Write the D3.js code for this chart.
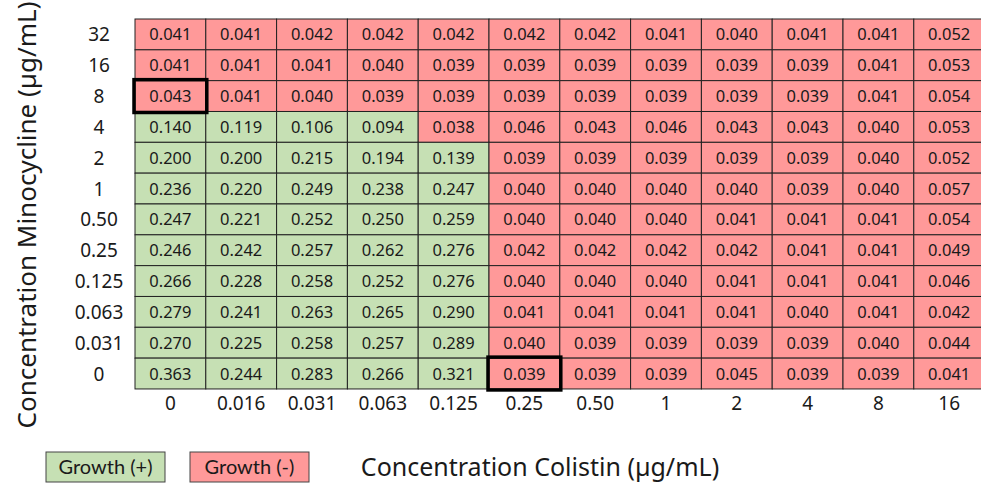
<!DOCTYPE html>
<html>
<head>
<meta charset="utf-8">
<script src="https://cdnjs.cloudflare.com/ajax/libs/d3/7.8.5/d3.min.js"></script>
<style>
  body { margin: 0; background: #fff; }
  text { font-family: "Noto Sans", sans-serif; fill: #1a1a1a; }
  .cell { stroke: #222; stroke-width: 1; }
  .legend text { font-family: Lato, sans-serif; }
</style>
</head>
<body>
<script>
// colistin concentrations (columns), minocycline concentrations (rows, top to bottom)
var colistin = ["0", "0.016", "0.031", "0.063", "0.125", "0.25", "0.50", "1", "2", "4", "8", "16"];
var minocycline = ["32", "16", "8", "4", "2", "1", "0.50", "0.25", "0.125", "0.063", "0.031", "0"];

var od = [
  [0.041, 0.041, 0.042, 0.042, 0.042, 0.042, 0.042, 0.041, 0.040, 0.041, 0.041, 0.052],
  [0.041, 0.041, 0.041, 0.040, 0.039, 0.039, 0.039, 0.039, 0.039, 0.039, 0.041, 0.053],
  [0.043, 0.041, 0.040, 0.039, 0.039, 0.039, 0.039, 0.039, 0.039, 0.039, 0.041, 0.054],
  [0.140, 0.119, 0.106, 0.094, 0.038, 0.046, 0.043, 0.046, 0.043, 0.043, 0.040, 0.053],
  [0.200, 0.200, 0.215, 0.194, 0.139, 0.039, 0.039, 0.039, 0.039, 0.039, 0.040, 0.052],
  [0.236, 0.220, 0.249, 0.238, 0.247, 0.040, 0.040, 0.040, 0.040, 0.039, 0.040, 0.057],
  [0.247, 0.221, 0.252, 0.250, 0.259, 0.040, 0.040, 0.040, 0.041, 0.041, 0.041, 0.054],
  [0.246, 0.242, 0.257, 0.262, 0.276, 0.042, 0.042, 0.042, 0.042, 0.041, 0.041, 0.049],
  [0.266, 0.228, 0.258, 0.252, 0.276, 0.040, 0.040, 0.040, 0.041, 0.041, 0.041, 0.046],
  [0.279, 0.241, 0.263, 0.265, 0.290, 0.041, 0.041, 0.041, 0.041, 0.040, 0.041, 0.042],
  [0.270, 0.225, 0.258, 0.257, 0.289, 0.040, 0.039, 0.039, 0.039, 0.039, 0.040, 0.044],
  [0.363, 0.244, 0.283, 0.266, 0.321, 0.039, 0.039, 0.039, 0.045, 0.039, 0.039, 0.041]
];

// outlined MIC wells: [minocycline, colistin]
var highlights = [["8", "0"], ["0", "0.25"]];

var legendLabels = ["Growth (+)", "Growth (-)"];
var growthColor = "#c6e0b4", noGrowthColor = "#ff9999";
var cutoff = 0.08;

var width = 981, height = 485;
var gridLeft = 135, gridTop = 19, cellW = 70.8, cellH = 30.83;

var svg = d3.select("body").append("svg")
    .attr("width", width)
    .attr("height", height);

var x = d3.scaleBand().domain(colistin).range([gridLeft, gridLeft + cellW * colistin.length]);
var y = d3.scaleBand().domain(minocycline).range([gridTop, gridTop + cellH * minocycline.length]);

var cells = [];
od.forEach(function(row, i) {
  row.forEach(function(v, j) {
    cells.push({ r: minocycline[i], c: colistin[j], v: v });
  });
});

svg.selectAll("rect.cell")
  .data(cells)
  .enter().append("rect")
    .attr("class", "cell")
    .attr("x", function(d) { return x(d.c); })
    .attr("y", function(d) { return y(d.r); })
    .attr("width", x.bandwidth())
    .attr("height", y.bandwidth())
    .attr("fill", function(d) { return d.v > cutoff ? growthColor : noGrowthColor; });

svg.selectAll("text.val")
  .data(cells)
  .enter().append("text")
    .attr("class", "val")
    .attr("x", function(d) { return x(d.c) + x.bandwidth() / 2; })
    .attr("y", function(d) { return y(d.r) + y.bandwidth() / 2 + 6; })
    .attr("text-anchor", "middle")
    .style("font-size", "16.5px")
    .text(function(d) { return d.v.toFixed(3); });

svg.selectAll("rect.mic")
  .data(highlights)
  .enter().append("rect")
    .attr("x", function(d) { return x(d[1]) - 1; })
    .attr("y", function(d) { return y(d[0]) - 1; })
    .attr("width", x.bandwidth() + 2)
    .attr("height", y.bandwidth() + 2)
    .attr("fill", "none")
    .attr("stroke", "#000")
    .attr("stroke-width", 3.5);

// row labels
svg.selectAll("text.rowlab")
  .data(minocycline)
  .enter().append("text")
    .attr("class", "rowlab")
    .attr("x", 99)
    .attr("y", function(d) { return y(d) + y.bandwidth() / 2 + 7; })
    .attr("text-anchor", "middle")
    .style("font-size", "19px")
    .text(function(d) { return d; });

// column labels
svg.selectAll("text.collab")
  .data(colistin)
  .enter().append("text")
    .attr("class", "collab")
    .attr("x", function(d) { return x(d) + x.bandwidth() / 2; })
    .attr("y", 410)
    .attr("text-anchor", "middle")
    .style("font-size", "19px")
    .text(function(d) { return d; });

svg.append("text")
    .attr("transform", "translate(36,215) rotate(-90)")
    .attr("text-anchor", "middle")
    .style("font-size", "26px")
    .text("Concentration Minocycline (µg/mL)");

svg.append("text")
    .attr("x", 540)
    .attr("y", 476)
    .attr("text-anchor", "middle")
    .style("font-size", "25px")
    .text("Concentration Colistin (µg/mL)");

// legend
var lg = svg.selectAll("g.legend")
  .data(legendLabels)
  .enter().append("g")
    .attr("class", "legend")
    .attr("transform", function(d, i) { return "translate(" + (46 + i * 144) + ",452)"; });

lg.append("rect")
    .attr("width", 119)
    .attr("height", 30)
    .attr("fill", function(d, i) { return i === 0 ? growthColor : noGrowthColor; })
    .attr("stroke", "#444")
    .attr("stroke-width", 1);

lg.append("text")
    .attr("x", 59.5)
    .attr("y", 21.5)
    .attr("text-anchor", "middle")
    .style("font-size", "20px")
    .text(function(d) { return d; });
</script>
</body>
</html>
